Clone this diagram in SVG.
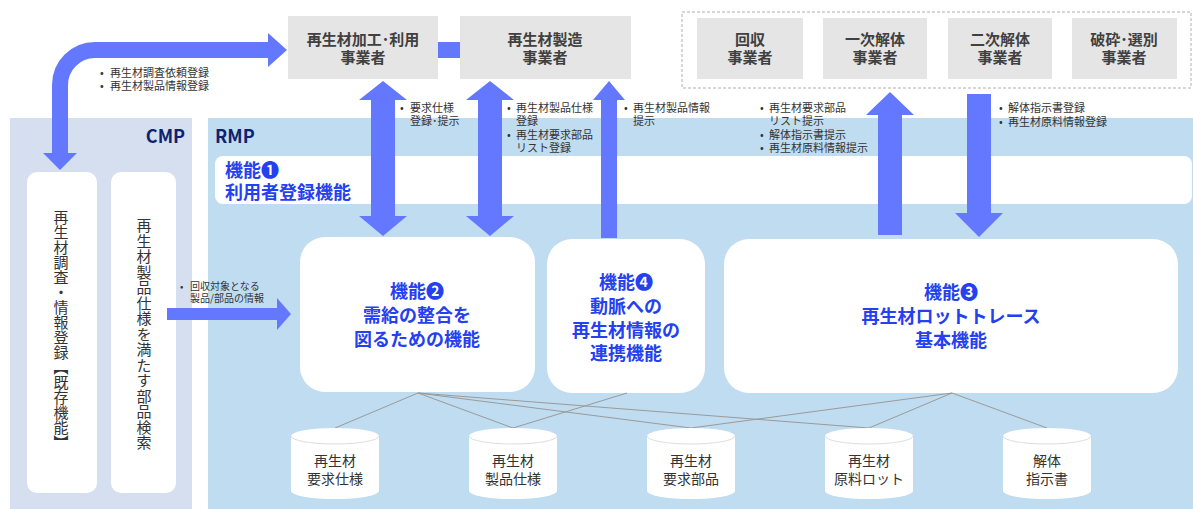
<svg xmlns="http://www.w3.org/2000/svg" width="1193" height="509" viewBox="0 0 1193 509">
<style>
text{font-family:"Noto Sans CJK JP","DejaVu Sans",sans-serif;}
.actor{fill:#e5e5e5;}
.actor-t{font-size:15px;font-weight:bold;fill:#404040;text-anchor:middle;}
.lbl{font-size:11px;fill:#333;}
.lbl-s{font-size:10px;fill:#333;}
.fn{fill:#fff;}
.fn-t{font-size:18px;font-weight:bold;fill:#2440f0;text-anchor:middle;}
.fn-l{font-size:18px;font-weight:bold;fill:#2440f0;text-anchor:start;}
.arrow{fill:#6478ff;}
.conn{stroke:#9a9a9a;stroke-width:1;fill:none;}
.cyl{fill:#fff;}
.cyl-top{fill:none;stroke:#dedede;stroke-width:1;}
.cyl-t{font-size:14px;fill:#333;text-anchor:middle;}
.vt{font-size:15px;fill:#333;writing-mode:vertical-rl;}
.plat{font-size:18px;font-weight:bold;fill:#0f226e;}
</style>

<!-- panels -->
<rect id="cmp-panel" x="10" y="118" width="182" height="391" fill="#d5dff0"/>
<rect id="rmp-panel" x="208" y="118" width="985" height="391" fill="#c0dcf0"/>
<text class="plat" x="185" y="143" text-anchor="end">CMP</text>
<text class="plat" x="215" y="143">RMP</text>

<!-- function 1 bar -->
<g id="func1">
<rect class="fn" x="215" y="156" width="977" height="48" rx="8"/>
<text class="fn-l" x="225" y="177">機能❶</text>
<text class="fn-l" x="225" y="199">利用者登録機能</text>
</g>

<!-- dashed group -->
<rect id="disassembly-group" x="682" y="12" width="509" height="76" fill="none" stroke="#b0b0b0" stroke-dasharray="3,2"/>

<!-- actors -->
<g id="actor-processing">
<rect class="actor" x="288" y="16" width="150" height="63"/>
<text class="actor-t" x="363" y="45">再生材加工･利用</text>
<text class="actor-t" x="363" y="63">事業者</text>
</g>
<g id="actor-manufacturing">
<rect class="actor" x="460" y="16" width="171" height="63"/>
<text class="actor-t" x="545" y="45">再生材製造</text>
<text class="actor-t" x="545" y="63">事業者</text>
</g>
<g id="actor-collection">
<rect class="actor" x="697" y="18" width="106" height="61"/>
<text class="actor-t" x="750" y="45">回収</text>
<text class="actor-t" x="750" y="63">事業者</text>
</g>
<g id="actor-primary">
<rect class="actor" x="823" y="18" width="104" height="61"/>
<text class="actor-t" x="875" y="45">一次解体</text>
<text class="actor-t" x="875" y="63">事業者</text>
</g>
<g id="actor-secondary">
<rect class="actor" x="948" y="18" width="104" height="61"/>
<text class="actor-t" x="1000" y="45">二次解体</text>
<text class="actor-t" x="1000" y="63">事業者</text>
</g>
<g id="actor-crushing">
<rect class="actor" x="1072" y="18" width="105" height="61"/>
<text class="actor-t" x="1124" y="45">破砕･選別</text>
<text class="actor-t" x="1124" y="63">事業者</text>
</g>

<!-- CMP boxes -->
<g id="cmp-register">
<rect class="fn" x="27" y="172" width="70" height="321" rx="10"/>
<text class="vt" x="61" y="210">再生材調査・情報登録【既存機能】</text>
</g>
<g id="cmp-search">
<rect class="fn" x="111" y="172" width="65" height="321" rx="10"/>
<text class="vt" x="144" y="218" letter-spacing="0.5">再生材製品仕様を満たす部品検索</text>
</g>

<!-- function boxes -->
<g id="func2">
<rect class="fn" x="300" y="237" width="235" height="155" rx="25"/>
<text class="fn-t" x="417" y="298">機能❷</text>
<text class="fn-t" x="417" y="322">需給の整合を</text>
<text class="fn-t" x="417" y="346">図るための機能</text>
</g>
<g id="func4">
<rect class="fn" x="547" y="239" width="158" height="154" rx="25"/>
<text class="fn-t" x="626" y="289">機能❹</text>
<text class="fn-t" x="626" y="313">動脈への</text>
<text class="fn-t" x="626" y="337">再生材情報の</text>
<text class="fn-t" x="626" y="360">連携機能</text>
</g>
<g id="func3">
<rect class="fn" x="724" y="239" width="454" height="154" rx="25"/>
<text class="fn-t" x="951" y="299">機能❸</text>
<text class="fn-t" x="951" y="323">再生材ロットトレース</text>
<text class="fn-t" x="951" y="347">基本機能</text>
</g>

<!-- connectors -->
<g id="connectors">
<g id="db-links">
<line class="conn" x1="418" y1="393" x2="335" y2="428"/>
<line class="conn" x1="418" y1="393" x2="513" y2="428"/>
<line class="conn" x1="418" y1="393" x2="691" y2="428"/>
<line class="conn" x1="418" y1="393" x2="869" y2="428"/>
<line class="conn" x1="627" y1="393" x2="513" y2="428"/>
<line class="conn" x1="952" y1="393" x2="691" y2="428"/>
<line class="conn" x1="952" y1="393" x2="869" y2="428"/>
<line class="conn" x1="952" y1="393" x2="1047" y2="428"/>
</g>
<rect class="arrow" x="438" y="42" width="22" height="16"/>
<path d="M60,153 V85 A35,35 0 0 1 95,50 H269" fill="none" stroke="#6478ff" stroke-width="16"/>
<polygon class="arrow" points="268,33 287,50 268,67"/>
<polygon class="arrow" points="43,153 77,153 60,170"/>
<polygon class="arrow" points="167,308 277,308 277,298 291,314 277,330 277,320 167,320"/>
<polygon class="arrow" points="383,81 407,100 395,100 395,216 407,216 383,236 359,216 371,216 371,100 359,100"/>
<polygon class="arrow" points="490,81 514,100 502,100 502,216 514,216 490,236 466,216 478,216 478,100 466,100"/>
<polygon class="arrow" points="609,81 625,100 617,100 617,238 601,238 601,100 593,100"/>
<polygon class="arrow" points="890,92 914,115 902,115 902,235 878,235 878,115 866,115"/>
<polygon class="arrow" points="967,94 991,94 991,213 1003,213 979,237 955,213 967,213"/>
</g>

<!-- connector labels -->
<g id="labels">
<text class="lbl" x="100" y="77">•<tspan x="110">再生材調査依頼登録</tspan></text>
<text class="lbl" x="100" y="90">•<tspan x="110">再生材製品情報登録</tspan></text>
<text class="lbl" x="400" y="112">•<tspan x="410">要求仕様</tspan></text>
<text class="lbl" x="410" y="125">登録･提示</text>
<text class="lbl" x="507" y="112">•<tspan x="516">再生材製品仕様</tspan></text>
<text class="lbl" x="516" y="125">登録</text>
<text class="lbl" x="507" y="139">•<tspan x="516">再生材要求部品</tspan></text>
<text class="lbl" x="516" y="152">リスト登録</text>
<text class="lbl" x="624" y="112">•<tspan x="633">再生材製品情報</tspan></text>
<text class="lbl" x="633" y="125">提示</text>
<text class="lbl" x="760" y="112">•<tspan x="769">再生材要求部品</tspan></text>
<text class="lbl" x="769" y="125">リスト提示</text>
<text class="lbl" x="760" y="139">•<tspan x="769">解体指示書提示</tspan></text>
<text class="lbl" x="760" y="152">•<tspan x="769">再生材原料情報提示</tspan></text>
<text class="lbl" x="999" y="112">•<tspan x="1008">解体指示書登録</tspan></text>
<text class="lbl" x="999" y="126">•<tspan x="1008">再生材原料情報登録</tspan></text>
<text class="lbl-s" x="180" y="290">•<tspan x="190">回収対象となる</tspan></text>
<text class="lbl-s" x="190" y="302">製品/部品の情報</text>
</g>

<!-- databases -->
<g id="db-spec">
<path class="cyl" d="M291,436 V491 A44,8 0 0 0 379,491 V436 A44,8 0 0 0 291,436 Z"/>
<path class="cyl-top" d="M291,436 A44,8 0 0 0 379,436"/>
<text class="cyl-t" x="335" y="466">再生材</text>
<text class="cyl-t" x="335" y="484">要求仕様</text>
</g>
<g id="db-product">
<path class="cyl" d="M469,436 V491 A44,8 0 0 0 557,491 V436 A44,8 0 0 0 469,436 Z"/>
<path class="cyl-top" d="M469,436 A44,8 0 0 0 557,436"/>
<text class="cyl-t" x="513" y="466">再生材</text>
<text class="cyl-t" x="513" y="484">製品仕様</text>
</g>
<g id="db-parts">
<path class="cyl" d="M647,436 V491 A44,8 0 0 0 735,491 V436 A44,8 0 0 0 647,436 Z"/>
<path class="cyl-top" d="M647,436 A44,8 0 0 0 735,436"/>
<text class="cyl-t" x="691" y="466">再生材</text>
<text class="cyl-t" x="691" y="484">要求部品</text>
</g>
<g id="db-lot">
<path class="cyl" d="M825,436 V491 A44,8 0 0 0 913,491 V436 A44,8 0 0 0 825,436 Z"/>
<path class="cyl-top" d="M825,436 A44,8 0 0 0 913,436"/>
<text class="cyl-t" x="869" y="466">再生材</text>
<text class="cyl-t" x="869" y="484">原料ロット</text>
</g>
<g id="db-instruction">
<path class="cyl" d="M1003,436 V491 A44,8 0 0 0 1091,491 V436 A44,8 0 0 0 1003,436 Z"/>
<path class="cyl-top" d="M1003,436 A44,8 0 0 0 1091,436"/>
<text class="cyl-t" x="1047" y="466">解体</text>
<text class="cyl-t" x="1047" y="484">指示書</text>
</g>
</svg>
